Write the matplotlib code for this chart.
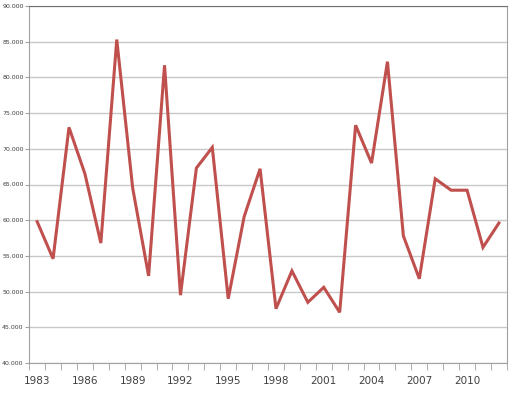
import matplotlib
matplotlib.use('Agg')
import matplotlib.pyplot as plt
from matplotlib.ticker import FuncFormatter, MultipleLocator

# Datos
anios = list(range(1983, 2013))
valores = [59800, 54600, 73000, 66500, 56800, 85300, 64500, 52200, 81700, 49500,
           67300, 70200, 49000, 60500, 67200, 47600, 52900, 48500, 50600, 47100,
           73300, 68000, 82200, 57800, 51800, 65800, 64200, 64200, 56200, 59600]
etiquetas_x = [str(a) if (a - 1983) % 3 == 0 else '' for a in anios]

fig = plt.figure(figsize=(5.12, 4.0), dpi=100)
ax = fig.add_axes([0.057, 0.0925, 0.933, 0.8925])

x = list(range(len(anios)))
ax.plot(x, valores, color='#C0504D', linewidth=2.2, solid_joinstyle='miter')

ax.set_xlim(-0.5, len(anios) - 0.5)
ax.set_ylim(40000, 90000)
ax.yaxis.set_major_locator(MultipleLocator(5000))
ax.yaxis.set_major_formatter(FuncFormatter(lambda v, p: f'{int(v):,}'.replace(',', '.')))
ax.grid(True, axis='y', color='#C8C8C8', linewidth=1.0)
ax.set_axisbelow(True)

# etiquetas en las categorías, marcas entre categorías
ax.set_xticks(x)
ax.set_xticklabels(etiquetas_x)
ax.tick_params(axis='x', length=0, labelsize=7.5, colors='#404040', pad=9)
ax.set_xticks([i - 0.5 for i in range(len(anios) + 1)], minor=True)
ax.tick_params(axis='x', which='minor', length=5, color='#A0A0A0')
ax.tick_params(axis='y', length=3, color='#A0A0A0', labelsize=4.5, labelcolor='#404040', pad=1)

for s in ['left', 'bottom', 'right']:
    ax.spines[s].set_color('#A0A0A0')
ax.spines['top'].set_color('#707070')

fig.savefig('out.png', dpi=100)
